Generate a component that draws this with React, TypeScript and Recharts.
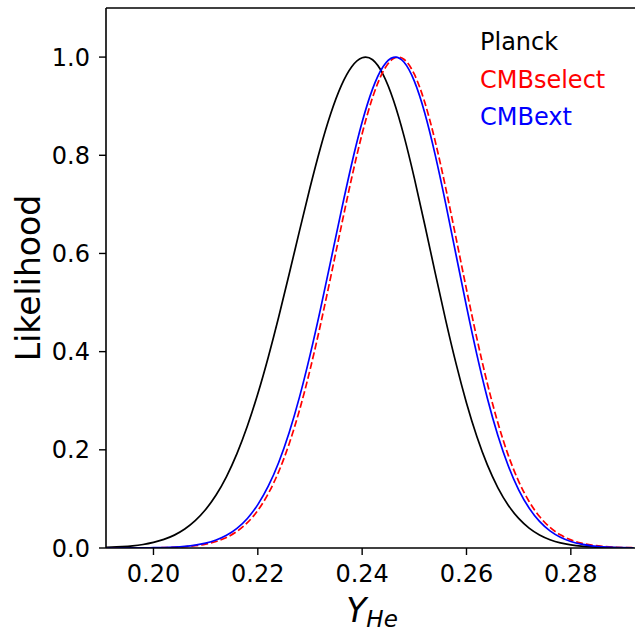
import React from 'react';
import { LineChart, Line, XAxis, YAxis, ReferenceLine } from 'recharts';

// Y_He grid the curves were read at
const yHe = [
  0.19, 0.192, 0.194, 0.196, 0.198, 0.2, 0.202, 0.204, 0.206, 0.208, 0.21, 0.212, 0.214, 0.216, 0.218,
  0.22, 0.222, 0.224, 0.226, 0.228, 0.23, 0.232, 0.234, 0.236, 0.238, 0.24, 0.242, 0.244, 0.246, 0.248,
  0.25, 0.252, 0.254, 0.256, 0.258, 0.26, 0.262, 0.264, 0.266, 0.268, 0.27, 0.272, 0.274, 0.276, 0.278,
  0.28, 0.282, 0.284, 0.286, 0.288, 0.29, 0.292,
];

const planck = [
  0.001, 0.0016, 0.0028, 0.0045, 0.0072, 0.0114, 0.0175, 0.0262, 0.0386, 0.0556, 0.0783, 0.1079, 0.1456,
  0.1922, 0.2484, 0.3141, 0.3887, 0.4705, 0.5576, 0.6466, 0.7338, 0.815, 0.8857, 0.942, 0.9805, 0.9987,
  0.9945, 0.965, 0.9122, 0.84, 0.7534, 0.6584, 0.5605, 0.4648, 0.3755, 0.2955, 0.2265, 0.1692, 0.1231,
  0.0872, 0.0602, 0.0405, 0.0265, 0.0169, 0.0105, 0.0064, 0.0038, 0.0022, 0.0012, 0.0007, 0.0004, 0.0002,
];

const cmbSelect = [
  0.0, 0.0, 0.0001, 0.0001, 0.0002, 0.0004, 0.0008, 0.0015, 0.0026, 0.0047, 0.008, 0.0133, 0.0215, 0.0338,
  0.0516, 0.0766, 0.1107, 0.1554, 0.212, 0.2812, 0.3625, 0.4543, 0.5534, 0.6553, 0.7543, 0.8439, 0.9178,
  0.9702, 0.997, 0.9956, 0.9651, 0.9078, 0.8288, 0.7342, 0.6313, 0.5268, 0.4266, 0.3352, 0.2556, 0.1892,
  0.1359, 0.0947, 0.0641, 0.0421, 0.0268, 0.0166, 0.01, 0.0058, 0.0033, 0.0018, 0.001, 0.0005,
];

const cmbExt = [
  0.0, 0.0, 0.0001, 0.0001, 0.0003, 0.0006, 0.001, 0.0019, 0.0034, 0.0059, 0.0099, 0.0162, 0.0258, 0.04,
  0.0602, 0.0883, 0.1258, 0.1743, 0.2349, 0.3078, 0.3923, 0.4862, 0.5859, 0.6867, 0.7828, 0.8676, 0.9353,
  0.9804, 0.9995, 0.99, 0.9511, 0.8863, 0.8009, 0.7021, 0.5968, 0.4921, 0.3935, 0.3052, 0.2296, 0.1675,
  0.1185, 0.0813, 0.0541, 0.0349, 0.0219, 0.0133, 0.0078, 0.0045, 0.0025, 0.0013, 0.0007, 0.0004,
];

const xTicks = [0.2, 0.22, 0.24, 0.26, 0.28];
const yTicks = [0, 0.2, 0.4, 0.6, 0.8, 1.0];

const legendItems = [
  { name: 'Planck', color: '#000000' },
  { name: 'CMBselect', color: '#ff0000' },
  { name: 'CMBext', color: '#0000ff' },
];

const FONT = 'DejaVu Sans';

const rows = yHe.map((x, i) => ({ x, planck: planck[i], select: cmbSelect[i], ext: cmbExt[i] }));

const YLabel = () => (
  <text
    x={40}
    y={278}
    transform='rotate(-90, 40, 278)'
    textAnchor='middle'
    fontSize={33}
    fontFamily={FONT}
    fill='#000'>
    Likelihood
  </text>
);

const XLabel = () => (
  <text x={372} y={622} textAnchor='middle' fontSize={33} fontFamily={FONT} fill='#000'>
    <tspan fontStyle='italic'>Y</tspan>
    <tspan fontStyle='italic' fontSize={23} dy={5}>
      He
    </tspan>
  </text>
);

export default function App() {
  return (
    <div style={{ position: 'absolute', left: 0, top: 0, width: 635, height: 632, background: '#fff' }}>
      <LineChart width={635} height={632} data={rows} margin={{ top: 8, right: 0, bottom: 0, left: 0 }}>
        <XAxis
          dataKey='x'
          type='number'
          domain={[0.1909, 0.2923]}
          allowDataOverflow
          ticks={xTicks}
          tickFormatter={(v) => v.toFixed(2)}
          height={84}
          tickSize={7}
          tickMargin={10}
          axisLine={{ stroke: '#000', strokeWidth: 1.6 }}
          tickLine={{ stroke: '#000', strokeWidth: 1.4 }}
          tick={{ fill: '#000', fontSize: 24, fontFamily: FONT }}
          label={<XLabel />}
        />
        <YAxis
          type='number'
          domain={[0, 1.1]}
          allowDataOverflow
          ticks={yTicks}
          tickFormatter={(v) => v.toFixed(1)}
          width={106}
          tickSize={7}
          tickMargin={9}
          axisLine={{ stroke: '#000', strokeWidth: 1.6 }}
          tickLine={{ stroke: '#000', strokeWidth: 1.4 }}
          tick={{ fill: '#000', fontSize: 24, fontFamily: FONT }}
          label={<YLabel />}
        />
        {/* top spine */}
        <ReferenceLine y={1.1} stroke='#000' strokeWidth={1.6} />
        <Line dataKey='planck' type='natural' stroke='#000000' strokeWidth={1.7} dot={false} isAnimationActive={false} />
        <Line
          dataKey='select'
          type='natural'
          stroke='#ff0000'
          strokeWidth={1.7}
          strokeDasharray='7 3'
          dot={false}
          isAnimationActive={false}
        />
        <Line dataKey='ext' type='natural' stroke='#0000ff' strokeWidth={1.7} dot={false} isAnimationActive={false} />
      </LineChart>
      {/* legend: text only, no handles */}
      <div
        style={{
          position: 'absolute',
          left: 480,
          top: 24,
          fontFamily: FONT,
          fontSize: 24,
          lineHeight: '37.5px',
        }}>
        {legendItems.map((item) => (
          <div key={item.name} style={{ color: item.color }}>
            {item.name}
          </div>
        ))}
      </div>
    </div>
  );
}
